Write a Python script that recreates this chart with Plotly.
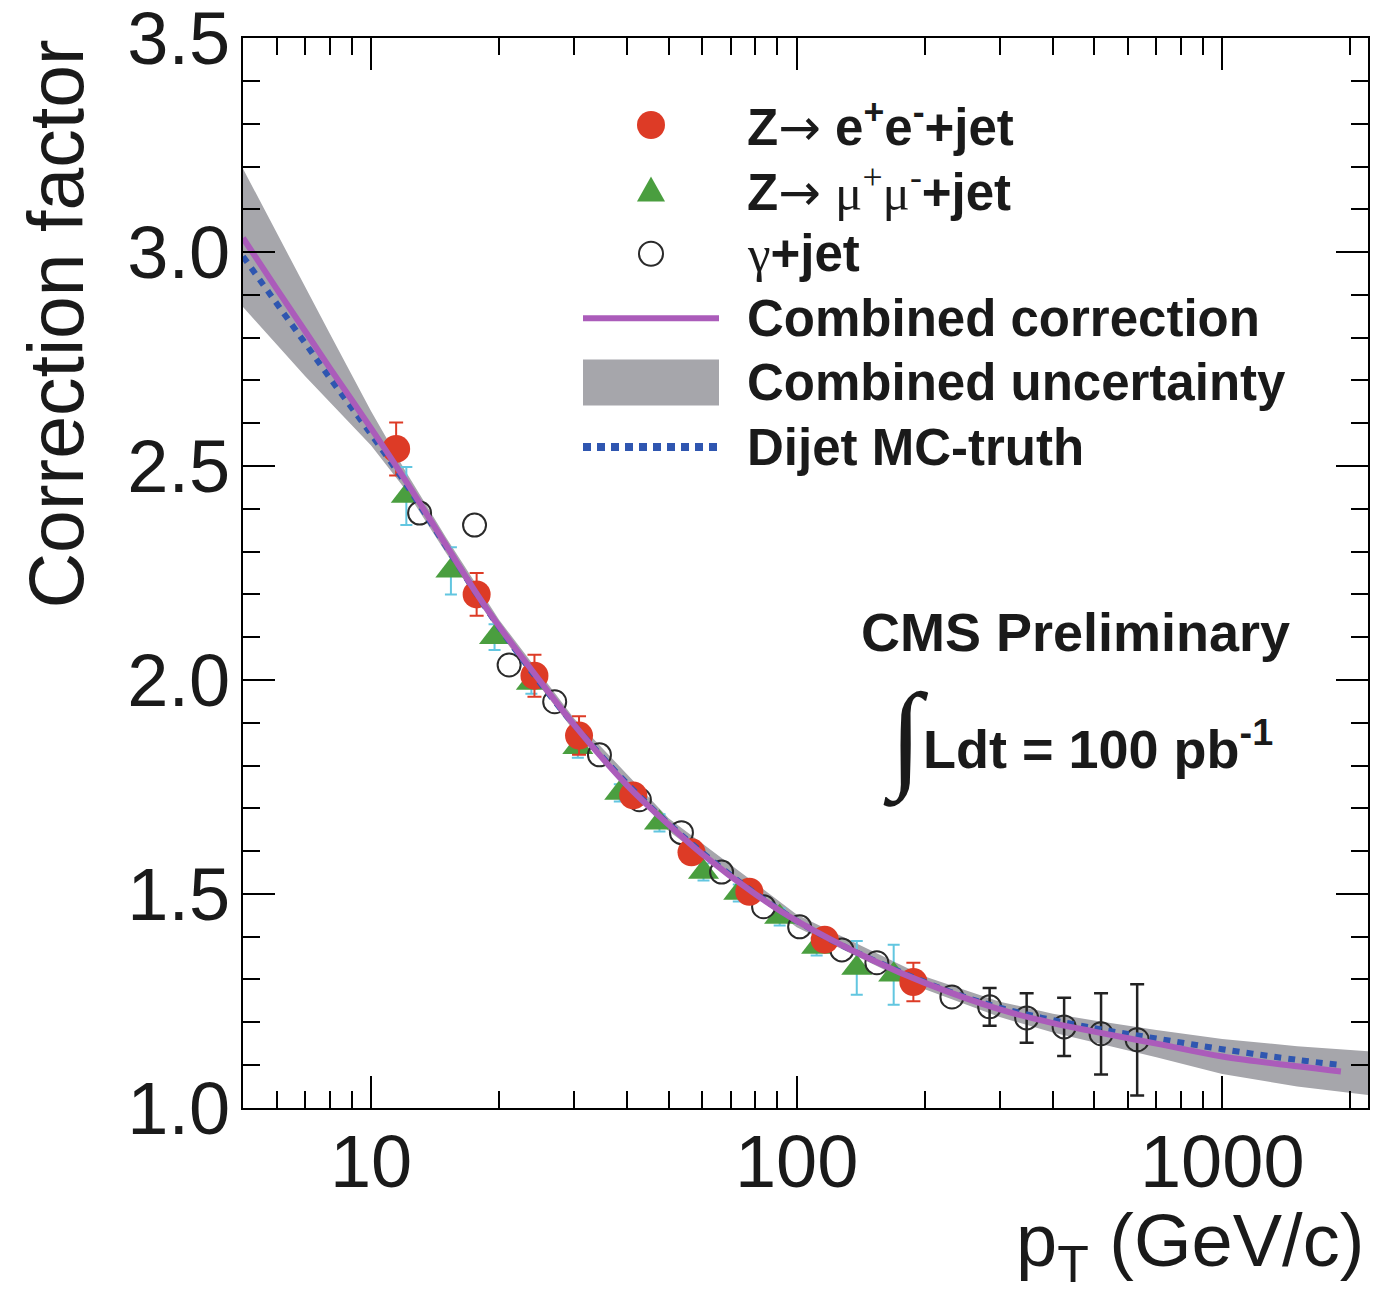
import math
import plotly.graph_objects as go

# Z -> e+e- + jet
pt_ee = [11.45, 17.7, 24.2, 30.8, 41.3, 56.6, 77.4, 116.4, 188.0]
cf_ee = [2.540, 2.200, 2.010, 1.870, 1.730, 1.597, 1.505, 1.393, 1.294]
err_ee = [0.062, 0.050, 0.049, 0.045, 0.025, 0.025, 0.025, 0.025, 0.045]

# Z -> mu+mu- + jet
pt_mm = [12.1, 15.4, 19.5, 23.8, 30.6, 38.4, 47.6, 60.4, 73.1, 91.2, 111.4, 138.4, 169.0]
cf_mm = [2.430, 2.255, 2.100, 1.993, 1.843, 1.736, 1.666, 1.551, 1.502, 1.446, 1.376, 1.327, 1.311]
err_mm = [0.068, 0.055, 0.030, 0.025, 0.025, 0.020, 0.020, 0.020, 0.020, 0.020, 0.020, 0.063, 0.070]

# gamma + jet, low-pT bins (error bars hidden by the markers)
pt_gj = [13.0, 17.5, 21.1, 27.0, 34.4, 42.7, 53.6, 66.6, 83.6, 101.6, 127.7, 154.3, 231.6]
cf_gj = [2.390, 2.362, 2.035, 1.949, 1.825, 1.720, 1.643, 1.551, 1.470, 1.423, 1.369, 1.339, 1.259]
# gamma + jet, high-pT bins with visible error bars
pt_gj_hi = [284.0, 347.0, 425.0, 519.0, 631.0]
cf_gj_hi = [1.236, 1.210, 1.189, 1.173, 1.159]
err_gj_hi = [0.044, 0.058, 0.068, 0.095, 0.130]

# Combined correction
pt_comb = [5, 6, 7, 8, 10, 12, 15, 17.7, 20, 25, 30, 40, 50, 60, 80, 100,
           150, 200, 300, 400, 500, 700, 1000, 1500, 1900]
cf_comb = [3.033, 2.914, 2.815, 2.729, 2.588, 2.469, 2.315, 2.202, 2.125, 1.996, 1.895,
           1.753, 1.662, 1.593, 1.499, 1.437, 1.346, 1.292, 1.230, 1.198, 1.178, 1.150,
           1.120, 1.097, 1.085]

# Combined uncertainty band (upper / lower edges)
pt_band = [5, 6, 7, 8, 10, 12, 15, 20, 30, 50, 100, 200, 300, 400, 500, 700, 1000, 1500, 2200]
band_hi = [3.195, 3.044, 2.920, 2.809, 2.628, 2.491, 2.333, 2.140, 1.910, 1.677, 1.452,
           1.307, 1.248, 1.220, 1.204, 1.182, 1.161, 1.144, 1.132]
band_lo = [2.872, 2.784, 2.710, 2.649, 2.548, 2.447, 2.297, 2.110, 1.880, 1.647, 1.422,
           1.277, 1.212, 1.176, 1.152, 1.118, 1.079, 1.050, 1.030]

# Dijet MC-truth correction
pt_dijet = [5, 6, 7, 8, 10, 12, 15, 20, 30, 50, 100, 200, 300, 500, 700, 1000, 1500, 1900]
cf_dijet = [2.990, 2.880, 2.787, 2.706, 2.574, 2.462, 2.312, 2.123, 1.895, 1.664, 1.437,
            1.294, 1.234, 1.186, 1.162, 1.137, 1.112, 1.100]

x_major = [10, 100, 1000]
x_major_text = ["10", "100", "1000"]
x_minor = [6, 7, 8, 9, 20, 30, 40, 50, 60, 70, 80, 90,
           200, 300, 400, 500, 600, 700, 800, 900, 2000]
y_major = [1.0, 1.5, 2.0, 2.5, 3.0, 3.5]
y_minor = [round(1.0 + 0.1 * i, 1) for i in range(26)]

ARROW = "<span style=\"font-family:'DejaVu Sans';font-weight:normal\">→</span>"
legend_labels = [
    "<b>Z</b>" + ARROW + " <b>e<sup>+</sup>e<sup>-</sup>+jet</b>",
    "<b>Z</b>" + ARROW + " <span style=\"font-family:'Liberation Serif';font-weight:normal\">"
    "μ<sup>+</sup>μ<sup>-</sup></span><b>+jet</b>",
    "<span style=\"font-family:'Liberation Serif';font-weight:normal\">γ</span><b>+jet</b>",
    "<b>Combined correction</b>",
    "<b>Combined uncertainty</b>",
    "<b>Dijet MC-truth</b>",
]

RED = "#dd3b26"
GREEN = "#4a9e3f"
CYAN = "#62c6e0"
PURPLE = "#ab5cba"
BLUE = "#2f56b0"
GRAY = "#a6a6ab"
INK = "#1a1a1a"
FONT = "Liberation Sans, Arial, Helvetica, sans-serif"

# plot-area geometry in pixels
W, H = 1373, 1312
L, R, T, B = 243, 5, 38, 204
PW, PH = W - L - R, H - T - B


def px(xp):
    return (xp - L) / PW


def py(yp):
    return (H - B - yp) / PH


fig = go.Figure()

fig.add_trace(go.Scatter(
    x=pt_band + pt_band[::-1], y=band_hi + band_lo[::-1],
    fill="toself", fillcolor=GRAY, line=dict(width=0, color=GRAY),
    mode="lines", name="Combined uncertainty", hoverinfo="skip"))

fig.add_trace(go.Scatter(
    x=pt_mm, y=cf_mm, mode="markers", name="Z→μμ+jet",
    marker=dict(symbol="triangle-up", size=27, color=GREEN),
    error_y=dict(type="data", array=err_mm, color=CYAN, thickness=2, width=6)))

gj_marker = dict(symbol="circle-open", size=23, color="#2a2a2a", line=dict(width=2))
fig.add_trace(go.Scatter(
    x=pt_gj, y=cf_gj, mode="markers", name="γ+jet", marker=gj_marker))
fig.add_trace(go.Scatter(
    x=pt_gj_hi, y=cf_gj_hi, mode="markers", name="γ+jet", marker=gj_marker,
    error_y=dict(type="data", array=err_gj_hi, color="#222222", thickness=2.5, width=7)))

fig.add_trace(go.Scatter(
    x=pt_ee, y=cf_ee, mode="markers", name="Z→ee+jet",
    marker=dict(symbol="circle", size=28, color=RED),
    error_y=dict(type="data", array=err_ee, color=RED, thickness=2, width=7)))

fig.add_trace(go.Scatter(
    x=pt_dijet, y=cf_dijet, mode="lines", name="Dijet MC-truth",
    line=dict(color=BLUE, width=6, dash="7px,7px", shape="spline")))

fig.add_trace(go.Scatter(
    x=pt_comb, y=cf_comb, mode="lines", name="Combined correction",
    line=dict(color=PURPLE, width=6, shape="spline")))

axis_common = dict(
    showline=True, linecolor="black", linewidth=2, mirror="ticks",
    ticks="inside", tickcolor="black", tickwidth=2, ticklen=32,
    showgrid=False, zeroline=False, ticklabeloverflow="allow", automargin=False,
    tickfont=dict(family=FONT, size=74, color=INK),
)

fig.update_xaxes(
    type="log", range=[math.log10(5), math.log10(2200)],
    tickvals=x_major, ticktext=x_major_text, ticklabelstandoff=-12,
    minor=dict(tickvals=x_minor, ticks="inside", ticklen=17, tickwidth=2, tickcolor="black"),
    **axis_common)
fig.update_yaxes(
    range=[0.9995, 3.5005], tickvals=y_major, ticktext=[f"{v:.1f}" for v in y_major],
    minor=dict(tickvals=y_minor, ticks="inside", ticklen=17, tickwidth=2, tickcolor="black"),
    ticklabelstandoff=-4,
    **axis_common)

# legend drawn as keys + labels
key_x = 651
row_y = [125 + 64.4 * i for i in range(6)]
shape_kw = dict(xref="paper", yref="paper", xsizemode="pixel", ysizemode="pixel")
keys = [
    dict(type="circle", x0=-14, x1=14, y0=-14, y1=14, fillcolor=RED, line=dict(width=0)),
    dict(type="path", path="M -14,-12 L 14,-12 L 0,13 Z", fillcolor=GREEN, line=dict(width=0)),
    dict(type="circle", x0=-12, x1=12, y0=-12, y1=12, fillcolor="rgba(0,0,0,0)",
         line=dict(width=2, color="#2a2a2a")),
    dict(type="line", x0=-68, x1=68, y0=0, y1=0, line=dict(width=6, color=PURPLE)),
    dict(type="rect", x0=-68, x1=68, y0=-23, y1=23, fillcolor=GRAY, line=dict(width=0)),
    dict(type="line", x0=-68, x1=68, y0=0, y1=0, line=dict(width=8, color=BLUE, dash="8px,6px")),
]
for k, yy in zip(keys, row_y):
    fig.add_shape(xanchor=px(key_x), yanchor=py(yy), **shape_kw, **k)
for lab, yy in zip(legend_labels, row_y):
    fig.add_annotation(
        text=lab, xref="paper", yref="paper", x=px(745), y=py(yy),
        xanchor="left", yanchor="middle", showarrow=False,
        font=dict(family=FONT, size=51, color=INK))

fig.add_annotation(
    text="Correction factor", textangle=-90, xref="paper", yref="paper",
    x=px(55), y=1.0, xanchor="center", yanchor="top", showarrow=False,
    font=dict(family=FONT, size=77, color=INK))
fig.add_annotation(
    text="p<sub>T</sub> (GeV/c)", xref="paper", yref="paper",
    x=px(1366), y=py(1197), xanchor="right", yanchor="top", showarrow=False,
    font=dict(family=FONT, size=74, color=INK))
fig.add_annotation(
    text="<b>CMS Preliminary</b>", xref="paper", yref="paper",
    x=px(1075), y=py(632), xanchor="center", yanchor="middle", showarrow=False,
    font=dict(family=FONT, size=54, color=INK))
fig.add_annotation(
    text="∫", xref="paper", yref="paper",
    x=px(906), y=py(738), xanchor="center", yanchor="middle", showarrow=False,
    font=dict(family="Liberation Serif", size=118, color=INK))
fig.add_annotation(
    text="<b>Ldt = 100 pb<sup>-1</sup></b>", xref="paper", yref="paper",
    x=px(921), y=py(745), xanchor="left", yanchor="middle", showarrow=False,
    font=dict(family=FONT, size=54, color=INK))

fig.update_layout(
    width=W, height=H,
    margin=dict(l=L, r=R, t=T, b=B),
    paper_bgcolor="white", plot_bgcolor="white",
    showlegend=False,
)

fig.write_html("out.html")
